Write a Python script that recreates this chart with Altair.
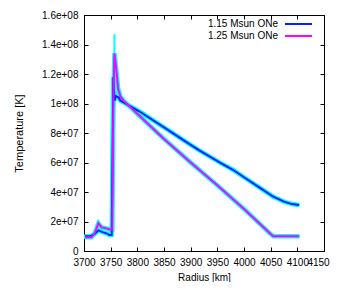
import altair as alt
import pandas as pd

# ---- data ----
series_names = ["1.15 Msun ONe", "1.25 Msun ONe"]
series_colors = ["#0a1eff", "#ff00ff"]

r_115 = [3702, 3712, 3720, 3727, 3735, 3742, 3748, 3752, 3755, 3757, 3760, 3765,
         3768, 3805, 3850, 3900, 3917, 3955, 3980, 4000, 4030, 4055, 4075, 4090, 4103]
t_115 = [1.0e7, 1.0e7, 1.15e7, 1.4e7, 1.28e7, 1.2e7, 1.08e7, 1.1e7, 1.18e8, 1.02e8,
         1.05e8, 1.04e8, 1.02e8, 9.44e7, 8.38e7, 7.2e7, 6.8e7, 5.99e7, 5.49e7, 5.0e7,
         4.28e7, 3.68e7, 3.35e7, 3.18e7, 3.12e7]
e_115 = [1.2e6, 1.2e6, 1.2e6, 1.5e6, 1.2e6, 1.2e6, 1.2e6, 1.5e6, 1.0e7, 6.0e6,
         3.0e6, 2.0e6, 1.5e6, 1.0e6, 1.0e6, 1.0e6, 1.0e6, 1.0e6, 1.0e6, 1.0e6,
         1.0e6, 1.0e6, 1.0e6, 1.0e6, 1.0e6]

r_125 = [3702, 3714, 3720, 3727, 3733, 3740, 3747, 3753, 3755, 3757, 3760, 3764,
         3768, 3774, 3800, 3850, 3900, 3950, 4000, 4050, 4055, 4080, 4103]
t_125 = [9.3e6, 9.3e6, 1.2e7, 1.88e7, 1.6e7, 1.55e7, 1.47e7, 1.45e7, 1.0e8, 1.34e8,
         1.25e8, 1.1e8, 1.05e8, 1.02e8, 9.3e7, 7.6e7, 6.0e7, 4.45e7, 2.85e7, 1.15e7,
         1.0e7, 1.0e7, 1.0e7]
e_125 = [1.2e6, 1.2e6, 1.5e6, 2.0e6, 1.5e6, 1.5e6, 1.5e6, 1.5e6, 8.0e6, 1.3e7,
         8.0e6, 5.0e6, 3.0e6, 2.0e6, 1.2e6, 1.2e6, 1.2e6, 1.2e6, 1.2e6, 1.2e6,
         1.2e6, 1.2e6, 1.2e6]

x_ticks = [3700, 3750, 3800, 3850, 3900, 3950, 4000, 4050, 4100, 4150]
y_ticks = [0, 2e7, 4e7, 6e7, 8e7, 1e8, 1.2e8, 1.4e8, 1.6e8]

rows = []
for name, rs, ts, es in [(series_names[0], r_115, t_115, e_115),
                         (series_names[1], r_125, t_125, e_125)]:
    for i, (r, t, e) in enumerate(zip(rs, ts, es)):
        rows.append({"series": name, "order": i, "r": r, "t": t,
                     "lo": t - e, "hi": t + e})
df = pd.DataFrame(rows)
legend_df = pd.DataFrame({"series": series_names})

FONT = "Liberation Sans"
INWARD = {"expr": "-4"}

xscale = alt.Scale(domain=[3700, 4150], nice=False, zero=False)
yscale = alt.Scale(domain=[0, 1.6e8], nice=False)
cscale = alt.Scale(domain=series_names, range=series_colors)

ylabel = "datum.value == 0 ? '0' : replace(format(datum.value, '~e'), 'e+', 'e+0')"
last_x = {"condition": {"test": f"datum.value == {x_ticks[-1]}", "value": -6},
          "value": 0}

base = alt.Chart(df)

err = base.mark_rule(color="#00ffff", strokeWidth=2).encode(
    x=alt.X("r:Q", scale=xscale,
            axis=alt.Axis(values=x_ticks, title="Radius [km]", orient="bottom",
                          format="d", labelOverlap=False, labelFlush=False,
                          labelOffset=last_x,
                          tickSize=INWARD, labelPadding=10, grid=False,
                          titleFontSize=10, titlePadding=5)),
    y=alt.Y("lo:Q", scale=yscale,
            axis=alt.Axis(values=y_ticks, title="Temperature [K]", orient="left",
                          tickSize=INWARD, labelPadding=10, grid=False,
                          labelOverlap=False, labelFlush=False,
                          labelExpr=ylabel, titlePadding=17)),
    y2="hi:Q",
    detail="series:N",
)

glow = base.mark_line(color="#00ffff", strokeWidth=4.5).encode(
    x=alt.X("r:Q", scale=xscale,
            axis=alt.Axis(values=x_ticks, orient="top", labels=False, title=None,
                          tickSize=INWARD, grid=False)),
    y=alt.Y("t:Q", scale=yscale,
            axis=alt.Axis(values=y_ticks, orient="right", labels=False, title=None,
                          tickSize=INWARD, grid=False)),
    detail="series:N",
    order="order:Q",
)

lines = base.mark_line(strokeWidth=2).encode(
    x=alt.X("r:Q", scale=xscale, axis=None),
    y=alt.Y("t:Q", scale=yscale, axis=None),
    color=alt.Color("series:N", scale=cscale, legend=None),
    order="order:Q",
)

# key (top-right, label left of the line sample)
key_y = alt.Y("series:N",
              scale=alt.Scale(type="point", padding=0, domain=series_names,
                              range=[9, 21]),
              axis=None)
key_text = alt.Chart(legend_df).mark_text(
    align="right", baseline="middle", font=FONT, fontSize=10, color="black"
).encode(x=alt.value(194), y=key_y, text="series:N")
key_line = alt.Chart(legend_df).mark_rule(strokeWidth=2).encode(
    x=alt.value(201), x2=alt.value(228), y=key_y,
    color=alt.Color("series:N", scale=cscale, legend=None),
)

chart = alt.layer(err, glow, lines, key_text, key_line).resolve_scale(
    y="independent"
).resolve_axis(
    x="independent", y="independent"
).properties(
    width=240, height=236,
    background="white",
    autosize=alt.AutoSizeParams(type="none"),
    padding={"left": 76, "top": 7, "right": 7, "bottom": 31},
).configure_view(
    stroke="black", strokeWidth=1
).configure_axis(
    labelFont=FONT, labelFontSize=10, labelColor="black",
    titleFont=FONT, titleFontSize=11, titleFontWeight="normal", titleColor="black",
    domainColor="black", tickColor="black", domainWidth=1, tickWidth=1,
)

chart.save("out.html", embed_options={"renderer": "svg", "actions": False})
